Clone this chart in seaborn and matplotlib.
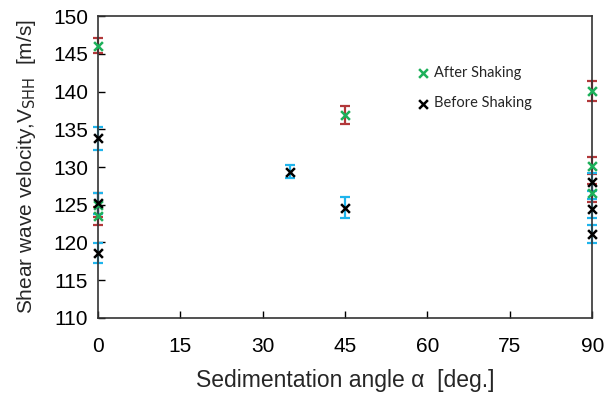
import seaborn as sns
import matplotlib.pyplot as plt
import pandas as pd

# values
after_angle = [0, 0, 0, 45, 90, 90, 90]
after_vs = [146.1, 125.0, 123.5, 136.9, 140.1, 130.2, 126.6]
after_err = [1.0, 1.6, 1.2, 1.2, 1.3, 1.1, 1.2]

before_angle = [0, 0, 0, 35, 45, 90, 90, 90]
before_vs = [133.8, 125.2, 118.6, 129.4, 124.6, 128.0, 124.5, 121.1]
before_err = [1.5, 1.4, 1.3, 0.9, 1.4, 1.2, 1.2, 1.2]

x_ticks = [0, 15, 30, 45, 60, 75, 90]
y_ticks = [110, 115, 120, 125, 130, 135, 140, 145, 150]

after = pd.DataFrame({'angle': after_angle, 'vs': after_vs, 'err': after_err})
before = pd.DataFrame({'angle': before_angle, 'vs': before_vs, 'err': before_err})

sns.set_theme(style='white')
plt.rcParams['font.family'] = ['Liberation Sans', 'DejaVu Sans']

fig = plt.figure(figsize=(6.08, 3.93), dpi=100)
ax = fig.add_axes([0.161, 0.191, 0.813, 0.768])

# error bars first so the markers sit on top
ax.errorbar(after['angle'], after['vs'], yerr=after['err'], fmt='none',
            ecolor='#B2383A', elinewidth=1.6, capsize=3.5, capthick=1.6,
            clip_on=False, zorder=2)
ax.errorbar(before['angle'], before['vs'], yerr=before['err'], fmt='none',
            ecolor='#1FB4EC', elinewidth=1.6, capsize=3.5, capthick=1.6,
            clip_on=False, zorder=2)

sns.scatterplot(x='angle', y='vs', data=after, ax=ax, marker='x', s=40,
                color='#1DB05A', linewidth=1.8, label='After Shaking',
                clip_on=False, zorder=3)
sns.scatterplot(x='angle', y='vs', data=before, ax=ax, marker='x', s=40,
                color='black', linewidth=1.8, label='Before Shaking',
                clip_on=False, zorder=4)

ax.set_xlim(0, 90)
ax.set_ylim(110, 150)
ax.set_xticks(x_ticks)
ax.set_yticks(y_ticks)
ax.tick_params(direction='in', length=5, width=1, colors='black',
               labelsize=15, left=True, bottom=True)
ax.tick_params(axis='x', pad=14)
ax.tick_params(axis='y', pad=7)
for sp in ax.spines.values():
    sp.set_color('#333333')
    sp.set_linewidth(1.2)

ax.set_xlabel('Sedimentation angle \u03b1  [deg.]', fontsize=16.5, labelpad=9)
ax.set_ylabel('Shear wave velocity,V$_{\\mathrm{SHH}}$  [m/s]', fontsize=15,
              labelpad=11)

ax.legend(loc='upper left', bbox_to_anchor=(0.632, 0.86), frameon=False,
          handlelength=0.8, handletextpad=0.3, labelspacing=1.15,
          borderpad=0, prop={'family': ['Lato', 'DejaVu Sans'], 'size': 10.5})

plt.savefig('out.png', dpi=100)
